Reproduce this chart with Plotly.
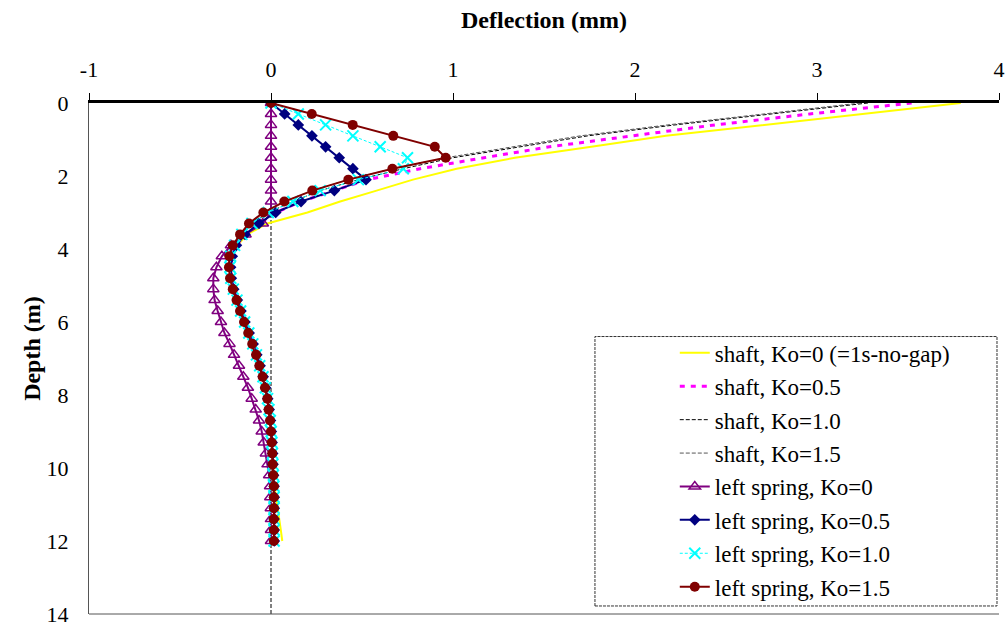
import plotly.graph_objects as go

depth = [0.0, 0.3, 0.6, 0.9, 1.2, 1.5, 1.8, 2.1, 2.4, 2.7, 3.0, 3.3, 3.6, 3.9, 4.2, 4.5, 4.8,
         5.1, 5.4, 5.7, 6.0, 6.3, 6.6, 6.9, 7.2, 7.5, 7.8, 8.1, 8.4, 8.7, 9.0, 9.3, 9.6,
         9.9, 10.2, 10.5, 10.8, 11.1, 11.4, 11.7, 12.0]

shaft_k0 = [3.79, 3.24, 2.70, 2.17, 1.76, 1.34, 1.02, 0.78, 0.58, 0.38, 0.20, -0.02, -0.13,
            -0.185, -0.21, -0.218, -0.215, -0.203, -0.184, -0.163, -0.142, -0.12, -0.098,
            -0.078, -0.06, -0.043, -0.03, -0.018, -0.01, -0.003, 0.002, 0.005, 0.008, 0.01,
            0.013, 0.018, 0.028, 0.038, 0.046, 0.054, 0.062]
shaft_k05 = [3.52, 2.96, 2.44, 1.97, 1.53, 1.17, 0.82, 0.53, 0.348, 0.165, 0.026, -0.066,
             -0.143, -0.19, -0.213, -0.222, -0.218, -0.205, -0.185, -0.165, -0.143, -0.12,
             -0.098, -0.078, -0.06, -0.043, -0.03, -0.018, -0.01, -0.003, 0.002, 0.006,
             0.009, 0.011, 0.014, 0.017, 0.018, 0.018, 0.017, 0.018, 0.018]
shaft_k10 = [3.28, 2.75, 2.22, 1.74, 1.36, 1.00, 0.727, 0.48, 0.27, 0.12, -0.015, -0.105,
             -0.16, -0.20, -0.222, -0.226, -0.221, -0.207, -0.187, -0.167, -0.145, -0.122,
             -0.10, -0.08, -0.062, -0.044, -0.031, -0.019, -0.011, -0.004, 0.001, 0.005,
             0.008, 0.01, 0.013, 0.016, 0.017, 0.017, 0.016, 0.017, 0.017]
shaft_k15 = [3.24, 2.71, 2.18, 1.70, 1.32, 0.96, 0.667, 0.425, 0.227, 0.073, -0.042, -0.121,
             -0.17, -0.21, -0.229, -0.231, -0.225, -0.21, -0.189, -0.17, -0.148, -0.125,
             -0.103, -0.082, -0.064, -0.046, -0.033, -0.02, -0.013, -0.005, 0.0, 0.004,
             0.007, 0.009, 0.013, 0.016, 0.016, 0.016, 0.015, 0.016, 0.016]

spring_k0 = [0, 0, 0, 0, 0, 0, 0, 0, 0, 0, 0, -0.045, -0.14, -0.22, -0.27, -0.30, -0.317,
             -0.317, -0.31, -0.293, -0.275, -0.256, -0.228, -0.203, -0.176, -0.152, -0.127,
             -0.106, -0.084, -0.066, -0.051, -0.04, -0.028, -0.019, -0.01, -0.005, -0.004,
             -0.001, 0.0, 0.0, 0.0]
spring_k05 = [0, 0.075, 0.15, 0.225, 0.30, 0.375, 0.45, 0.522, 0.348, 0.165, 0.026, -0.066,
              -0.143, -0.19, -0.213, -0.222, -0.218, -0.205, -0.185, -0.165, -0.143, -0.12,
              -0.098, -0.078, -0.06, -0.043, -0.03, -0.018, -0.01, -0.003, 0.002, 0.006,
              0.009, 0.011, 0.014, 0.017, 0.018, 0.018, 0.017, 0.018, 0.018]
spring_k10 = [0, 0.15, 0.30, 0.45, 0.60, 0.75, 0.727, 0.48, 0.27, 0.12, -0.015, -0.105,
              -0.16, -0.20, -0.222, -0.226, -0.221, -0.207, -0.187, -0.167, -0.145, -0.122,
              -0.10, -0.08, -0.062, -0.044, -0.031, -0.019, -0.011, -0.004, 0.001, 0.005,
              0.008, 0.01, 0.013, 0.016, 0.017, 0.017, 0.016, 0.017, 0.017]
spring_k15 = [0, 0.224, 0.449, 0.672, 0.90, 0.96, 0.667, 0.425, 0.227, 0.073, -0.042, -0.121,
              -0.17, -0.21, -0.229, -0.231, -0.225, -0.21, -0.189, -0.17, -0.148, -0.125,
              -0.103, -0.082, -0.064, -0.046, -0.033, -0.02, -0.013, -0.005, 0.0, 0.004,
              0.007, 0.009, 0.013, 0.016, 0.016, 0.016, 0.015, 0.016, 0.016]

x_ticks = [-1, 0, 1, 2, 3, 4]
x_ticktext = ["-1", "0", "1", "2", "3", "4"]
y_ticks = [0, 2, 4, 6, 8, 10, 12, 14]

FONT = "Liberation Serif, Times New Roman, serif"

fig = go.Figure()

shaft_series = [
    ("shaft, Ko=0 (=1s-no-gap)", shaft_k0, dict(color="#FFFF00", width=2)),
    ("shaft, Ko=0.5", shaft_k05, dict(color="#FF00FF", width=3, dash="5px,6px")),
    ("shaft, Ko=1.0", shaft_k10, dict(color="#000000", width=1, dash="4px,2px")),
    ("shaft, Ko=1.5", shaft_k15, dict(color="#555555", width=1, dash="4px,2px")),
]
for i, (name, vals, line) in enumerate(shaft_series):
    fig.add_trace(go.Scatter(x=vals, y=depth, mode="lines", name=name, line=line,
                             legendgroup=f"g{i}"))

spring_series = [
    ("left spring, Ko=0", spring_k0, dict(color="#800080", width=2),
     dict(symbol="triangle-up-open", size=10, color="#800080", line=dict(width=1.5, color="#800080"))),
    ("left spring, Ko=0.5", spring_k05, dict(color="#000080", width=2),
     dict(symbol="diamond", size=9, color="#000080")),
    ("left spring, Ko=1.0", spring_k10, dict(color="#00FFFF", width=1, dash="3px,2px"),
     dict(symbol="x-thin", size=11, color="#00FFFF", line=dict(width=2, color="#00FFFF"))),
    ("left spring, Ko=1.5", spring_k15, dict(color="#800000", width=2),
     dict(symbol="circle", size=10, color="#800000")),
]
for j, (name, vals, line, marker) in enumerate(spring_series):
    fig.add_trace(go.Scatter(x=vals, y=depth, mode="lines+markers", name=name, line=line,
                             marker=marker, legendgroup=f"s{j}"))

tickfont = dict(family=FONT, size=22, color="black")

fig.update_layout(
    width=1005, height=626,
    margin=dict(l=89, r=6, t=103, b=12),
    paper_bgcolor="white", plot_bgcolor="white",
    font=dict(family=FONT, size=22, color="black"),
    xaxis=dict(side="top", range=[-1, 4], tickvals=x_ticks, ticktext=x_ticktext,
               showgrid=False, zeroline=False,
               showline=True, linecolor="black", linewidth=2.5, ticks="outside", ticklen=7,
               tickcolor="black", tickwidth=1, tickfont=tickfont, ticklabelstandoff=7,
               ticklabeloverflow="allow", automargin=False),
    xaxis2=dict(side="top", overlaying="x", range=[-1, 4], tickvals=x_ticks, showgrid=False,
                zeroline=False, showline=False, ticks="inside", ticklen=7, tickcolor="black",
                tickwidth=1, showticklabels=False, automargin=False),
    yaxis=dict(range=[14, 0], tickvals=y_ticks, showgrid=False, zeroline=False, showline=True,
               linecolor="#555555", linewidth=1, ticks="", tickfont=tickfont,
               ticklabelstandoff=15, ticklabeloverflow="allow", automargin=False),
    yaxis2=dict(overlaying="y", anchor="free", position=0.2, range=[14, 0], tickvals=y_ticks,
                showgrid=False, zeroline=False, showline=False, ticks="outside", ticklen=7,
                tickcolor="#333333", tickwidth=1, showticklabels=False, automargin=False),
    yaxis3=dict(overlaying="y", anchor="free", position=0.2, range=[14, 0], tickvals=y_ticks,
                showgrid=False, zeroline=False, showline=False, ticks="inside", ticklen=7,
                tickcolor="#333333", tickwidth=1, showticklabels=False, automargin=False),
    legend=dict(x=0.558, y=0.553, xanchor="left", yanchor="top", bgcolor="rgba(0,0,0,0)",
                borderwidth=0, font=dict(family=FONT, size=23, color="black"),
                tracegroupgap=0.5, indentation=78, itemwidth=30),
    showlegend=True,
)

# frame lines and zero reference line
fig.add_shape(type="line", xref="paper", yref="paper", x0=0, x1=1, y0=0, y1=0,
              line=dict(color="#555555", width=1))
fig.add_shape(type="line", xref="x", yref="paper", x0=0, x1=0, y0=0, y1=1,
              line=dict(color="black", width=1, dash="4px,2px"), layer="below")
# legend box
fig.add_shape(type="rect", xref="paper", yref="paper", x0=0.556, x1=0.9978, y0=0.0157, y1=0.543,
              line=dict(color="#333333", width=1, dash="3px,1px"), fillcolor="white", layer="below")

fig.add_annotation(text="<b>Deflection (mm)</b>", xref="paper", yref="paper", x=0.5, y=1.162,
                   xanchor="center", yanchor="middle", showarrow=False,
                   font=dict(family=FONT, size=24, color="black"))
fig.add_annotation(text="<b>Depth (m)</b>", xref="paper", yref="paper", x=-0.062, y=0.52,
                   xanchor="center", yanchor="middle", showarrow=False, textangle=-90,
                   font=dict(family=FONT, size=24, color="black"))

# remove the default page margin so the figure sits exactly in the window
fig.write_html("out.html", config={"displayModeBar": False},
               post_script="document.body.style.margin='0px';"
                           "document.body.style.overflow='hidden';")
